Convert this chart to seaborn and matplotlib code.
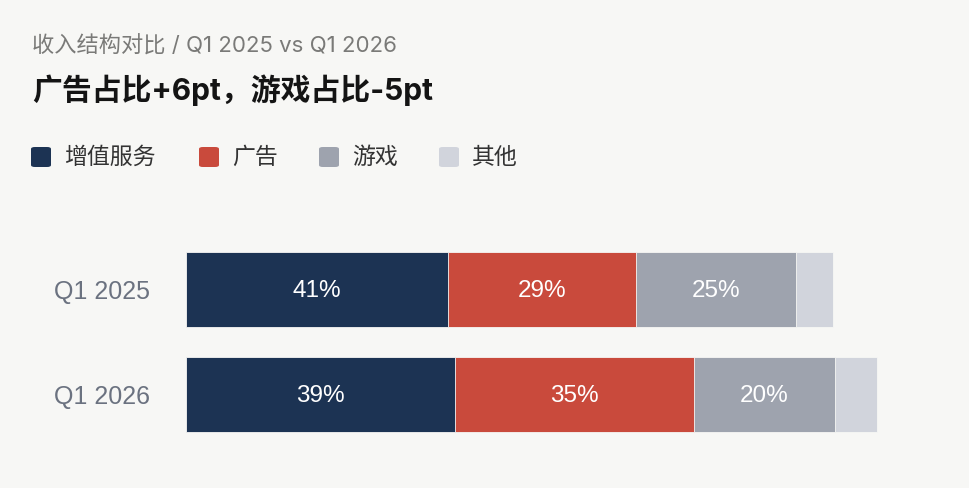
import numpy as np
import pandas as pd
import seaborn as sns
import matplotlib.pyplot as plt
from matplotlib.patches import FancyBboxPatch

# 数据（按像素估读的收入规模，单位任意；2025 总计 = 100）
quarters = ["Q1 2025", "Q1 2026"]
segments = ["增值服务", "广告", "游戏", "其他"]
vas = [40.5, 41.6]
ads = [29.1, 36.9]
games = [24.7, 21.8]
other = [5.7, 6.5]
labels_vas = ["41%", "39%"]
labels_ads = ["29%", "35%"]
labels_games = ["25%", "20%"]
labels_other = ["", ""]

colors = ["#1c3353", "#c94a3c", "#9ea3ae", "#d1d4dc"]
bg = "#f7f7f5"

sns.set_theme(style="white")
plt.rcParams['font.family'] = ['Noto Sans CJK SC', 'DejaVu Sans']
title_fonts = ['Inter', 'Noto Sans CJK SC', 'DejaVu Sans']
num_fonts = ['Liberation Sans', 'DejaVu Sans']

rows = []
for name, vals in zip(segments, [vas, ads, games, other]):
    for q, v in zip(quarters, vals):
        rows.append({"quarter": q, "segment": name, "value": v})
df = pd.DataFrame(rows)
df["cum"] = df.groupby("quarter")["value"].cumsum()
df["mid"] = df["cum"] - df["value"] / 2

fig = plt.figure(figsize=(9.7, 4.88), dpi=100, facecolor=bg)
ax = fig.add_axes([186 / 970, 41 / 488, 744 / 970, 210 / 488])
ax.set_facecolor(bg)

# 叠加画法：从最长的累计值开始画
for name, col in reversed(list(zip(segments, colors))):
    sub = df[df["segment"] == name]
    sns.barplot(data=sub, x="cum", y="quarter", order=quarters, color=col,
                width=0.714, edgecolor=bg, linewidth=0.6, saturation=1, ax=ax)

all_labels = {"增值服务": labels_vas, "广告": labels_ads, "游戏": labels_games, "其他": labels_other}
for name in segments:
    sub = df[df["segment"] == name].set_index("quarter").loc[quarters]
    for i, (m, lab) in enumerate(zip(sub["mid"], all_labels[name])):
        ax.text(m, i + 0.01, lab, ha="center", va="center", color="white",
                fontsize=17.5, family=num_fonts)

ax.set_xlim(0, 744 / 6.47)
ax.set_ylim(1.5, -0.5)
ax.set_xlabel("")
ax.set_ylabel("")
ax.set_xticks([])
ax.tick_params(axis="y", length=0, pad=26, labelsize=18, labelcolor="#6b7280")
for t in ax.get_yticklabels():
    t.set_family(num_fonts)
sns.despine(ax=ax, left=True, bottom=True)

# 标题
fig.text(32 / 970, 1 - 46 / 488, "收入结构对比 / Q1 2025 vs Q1 2026",
         fontsize=16, color="#7a7a78", va="center", ha="left", family=title_fonts)
fig.text(32 / 970, 1 - 90 / 488, "广告占比+6pt，游戏占比-5pt",
         fontsize=21.5, color="#141414", fontweight="bold", va="center", ha="left",
         family=title_fonts)

# 图例
leg_x = [31, 199, 319, 439]
for x, name, col in zip(leg_x, segments, colors):
    fig.patches.append(FancyBboxPatch((x / 970, 1 - 167 / 488), 20 / 970, 20 / 488,
                                      boxstyle="round,pad=0,rounding_size=0.004",
                                      transform=fig.transFigure, facecolor=col,
                                      edgecolor="none"))
    fig.text((x + 33) / 970, 1 - 157 / 488, name, fontsize=16.5, color="#333333",
             va="center", ha="left")

fig.savefig("out.png", dpi=100, facecolor=bg)
